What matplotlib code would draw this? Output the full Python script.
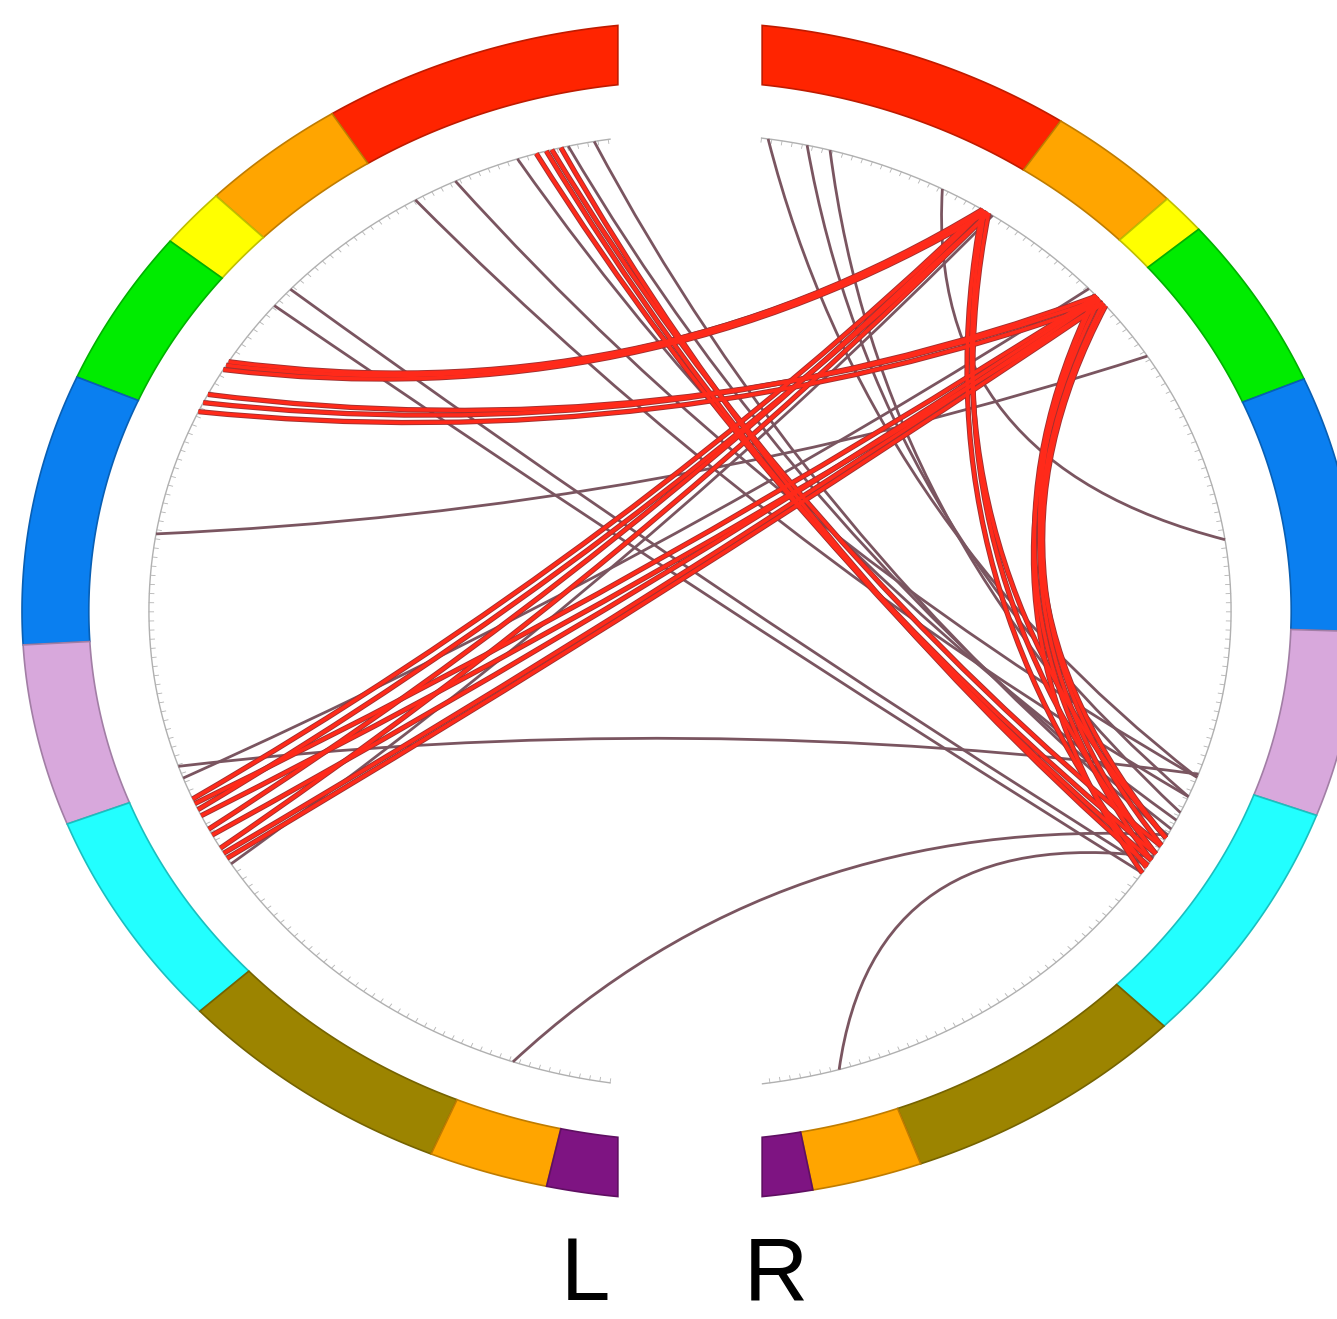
import numpy as np
import matplotlib
matplotlib.use("Agg")
import matplotlib.pyplot as plt
from matplotlib.path import Path
from matplotlib.patches import Polygon, PathPatch
import matplotlib.colors as mcolors

# ring segments, angles in degrees clockwise from top (None = cut at the L/R split)
RIGHT_BOUNDS = [None, 33.7, 45.6, 49.6, 66.8, 92.0, 110.3, 134.8, 159.8, 169.4, None]
LEFT_BOUNDS = [None, 32.4, 45.2, 51.1, 66.6, 93.3, 111.2, 132.8, 157.2, 167.6, None]
SEG_COLORS = ["#ff2400", "#ffa500", "#ffff00", "#00ec00", "#0a7ff0",
              "#d8a8dc", "#22ffff", "#9c8400", "#ffa500", "#7e1482"]

# connections (angle A, angle B) on the inner circle
RED_CHORDS = [
    (-113.2, 32.7), (-114.6, 33.5), (-117.2, 32.9), (-119.8, 33.5),
    (-113.8, 48.7), (-115.4, 49.8), (-118.0, 48.9), (-121.2, 49.8), (-120.5, 49.2),
    (-59.0, 32.7), (-59.6, 33.3), (-58.5, 32.9),
    (-64.1, 48.7), (-65.3, 49.8), (-63.0, 49.2),
    (-16.5, 120.6), (-15.4, 121.5), (-14.8, 119.5), (-13.8, 122.2),
    (33.0, 118.4), (33.5, 120.6), (32.7, 122.5),
    (48.7, 118.4), (49.8, 120.6), (49.2, 123.3), (48.5, 121.5), (50.2, 119.4),
]
DARK_CHORDS = [
    (-30.5, 112.9), (-25.7, 110.4), (-18.6, 116.0), (-13.0, 117.2), (-10.2, 118.0),
    (8.3, 110.4), (12.5, 112.9), (15.0, 115.0),
    (27.8, 81.4), (57.7, -80.7),
    (-109.0, 110.0),
    (-50.2, 123.3), (-47.6, 122.4),
    (-160.9, 118.0), (164.0, 121.0),
    (-110.5, 47.5), (-122.0, 34.0),
]
LABELS = ["L", "R"]

R_OUT, R_IN = 1.0, 0.9
R_CHORD = 0.81
GAP_X = 0.108
CURVE = 0.6  # control point = CURVE * chord midpoint


def pt(ang, r):
    a = np.deg2rad(ang)
    return np.array([r * np.sin(a), r * np.cos(a)])


def gap_angle(r, top):
    # angle of the vertical gap cut at radius r
    a = np.rad2deg(np.arcsin(GAP_X / r))
    return a if top else 180.0 - a


def ring_side(ax, bounds, sign):
    for i, c in enumerate(SEG_COLORS):
        lo, hi = bounds[i], bounds[i + 1]
        pts_out, pts_in = [], []
        for r, store in ((R_OUT, pts_out), (R_IN, pts_in)):
            a0 = gap_angle(r, True) if lo is None else lo
            a1 = gap_angle(r, False) if hi is None else hi
            for a in np.linspace(a0, a1, 60):
                store.append(pt(sign * a, r))
        poly = np.vstack([pts_out, pts_in[::-1]])
        edge = tuple(np.array(mcolors.to_rgb(c)) * 0.75)
        ax.add_patch(Polygon(poly, closed=True, facecolor=c, edgecolor=edge,
                             linewidth=1.2, zorder=2))


def chord(ax, a, b, color, lw, z):
    A, B = pt(a, R_CHORD), pt(b, R_CHORD)
    C = CURVE * (A + B) / 2
    p = Path([A, C, B], [Path.MOVETO, Path.CURVE3, Path.CURVE3])
    ax.add_patch(PathPatch(p, facecolor="none", edgecolor=color, linewidth=lw,
                           capstyle="butt", zorder=z))


def main():
    fig = plt.figure(figsize=(13.37, 13.19), dpi=100)
    ax = fig.add_axes([0, 0, 1, 1])
    ax.set_xlim(-690 / 668, (1337 - 690) / 668)
    ax.set_ylim(-(1319 - 611) / 589, 611 / 589)
    ax.axis("off")

    ring_side(ax, RIGHT_BOUNDS, 1)
    ring_side(ax, LEFT_BOUNDS, -1)

    # inner circle with fine ticks
    for a0, a1 in ((7.6, 172.3), (-171.5, -8.5)):
        angs = np.linspace(a0, a1, 400)
        xy = np.array([pt(a, R_CHORD) for a in angs])
        ax.plot(xy[:, 0], xy[:, 1], color="#b0b0b0", lw=1.0, zorder=3)
        for a in np.arange(a0, a1, 1.1):
            p0, p1 = pt(a, R_CHORD), pt(a, R_CHORD - 0.007)
            ax.plot([p0[0], p1[0]], [p0[1], p1[1]], color="#b4b4b4", lw=0.6, zorder=3)

    for a, b in DARK_CHORDS:
        chord(ax, a, b, "#7a5560", 2.0, 4)
    for a, b in RED_CHORDS:
        chord(ax, a, b, "#a03030", 3.8, 5)
    for a, b in RED_CHORDS:
        chord(ax, a, b, "#ff2a1a", 2.5, 6)

    ax.text(-0.157, -1.13, LABELS[0], fontsize=64, family="Liberation Sans",
            ha="center", va="center", color="black")
    ax.text(0.128, -1.13, LABELS[1], fontsize=64, family="Liberation Sans",
            ha="center", va="center", color="black")

    fig.savefig("out.png", dpi=100, facecolor="white")
    plt.close(fig)


if __name__ == "__main__":
    main()
